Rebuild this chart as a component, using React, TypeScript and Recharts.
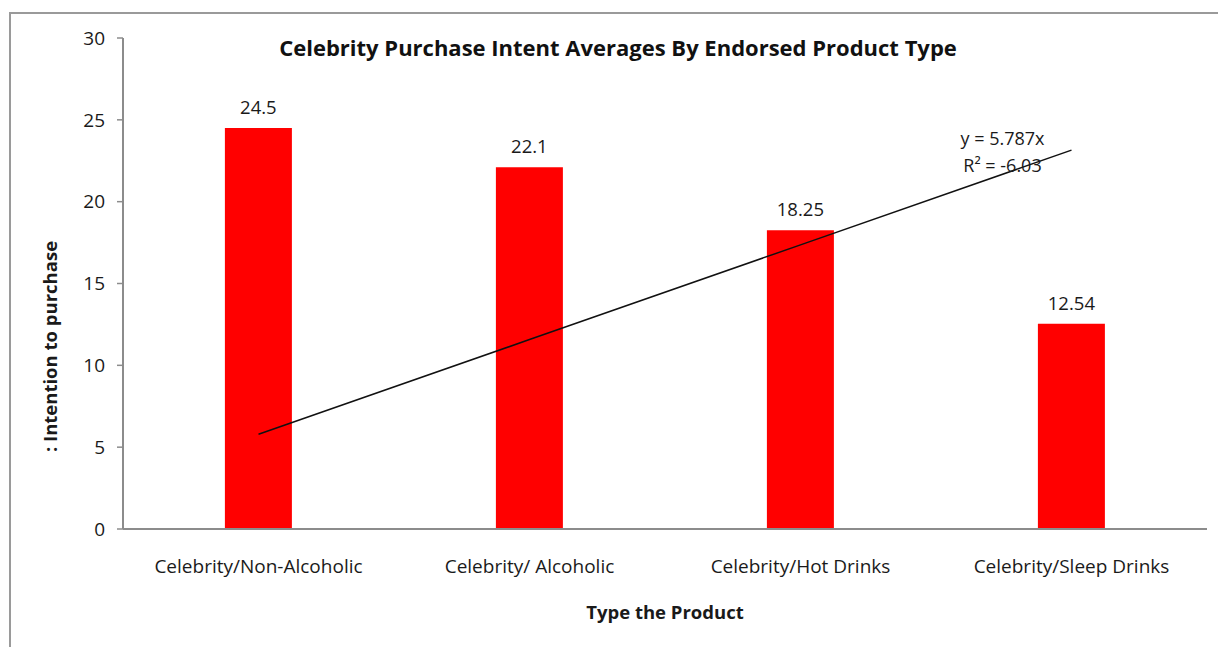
import {
  Bar,
  ComposedChart,
  LabelList,
  Line,
  XAxis,
  YAxis
} from "recharts";

const categories = [
  "Celebrity/Non-Alcoholic",
  "Celebrity/ Alcoholic",
  "Celebrity/Hot Drinks",
  "Celebrity/Sleep Drinks"
];
const intentValues = [24.5, 22.1, 18.25, 12.54];
const trendValues = [5.787, 11.574, 17.361, 23.148];
const yTicks = [0, 5, 10, 15, 20, 25, 30];

const trendEquation = "y = 5.787x";
const trendR2 = "R² = -6.03";

const data = categories.map((name, i) => ({
  name,
  intent: intentValues[i],
  trend: trendValues[i]
}));

const FONT = "'Open Sans', sans-serif";
const TEXT = "#1a1a1a";
const AXIS = "#8c8c8c";

function TrendLabel(props: any) {
  const { x, y, index } = props;
  if (index !== trendValues.length - 1) return null;
  return (
    <g fontFamily={FONT} fontSize={18} fill={TEXT}>
      <text x={x - 69} y={y - 5} textAnchor="middle">
        {trendEquation}
      </text>
      <text x={x - 69} y={y + 22} textAnchor="middle">
        {trendR2}
      </text>
    </g>
  );
}

// Excel put the axis title a bit below the plot's middle
function YTitle(props: any) {
  const { viewBox } = props;
  const cx = viewBox.x - 14;
  const cy = viewBox.y + viewBox.height / 2 + 63;
  return (
    <text
      x={cx}
      y={cy}
      transform={`rotate(-90 ${cx} ${cy})`}
      textAnchor="middle"
      dominantBaseline="central"
      fill={TEXT}
      fontSize={18.5}
      fontWeight={700}
      fontFamily={FONT}
    >
      : Intention to purchase
    </text>
  );
}

export default function App() {
  return (
    <div style={{ position: "absolute", left: 0, top: 0, width: 1218, height: 647, background: "#fff" }}>
      <div
        style={{
          position: "absolute",
          left: 9,
          top: 12,
          width: 1230,
          height: 660,
          border: "2px solid #9a9a9a",
          boxSizing: "border-box"
        }}
      />
      <div
        style={{
          position: "absolute",
          left: 0,
          top: 32,
          width: 1236,
          textAlign: "center",
          fontFamily: FONT,
          fontWeight: 700,
          fontSize: 22,
          color: "#111"
        }}
      >
        Celebrity Purchase Intent Averages By Endorsed Product Type
      </div>
      <div style={{ position: "absolute", left: 0, top: 0 }}>
        <ComposedChart
          width={1218}
          height={647}
          data={data}
          margin={{ top: 38, right: 11, left: 63, bottom: 38 }}
          barCategoryGap="37.6%"
        >
          <XAxis
            dataKey="name"
            height={80}
            tickLine={false}
            axisLine={{ stroke: AXIS, strokeWidth: 2 }}
            tick={{ fill: TEXT, fontSize: 19, fontFamily: FONT }}
            tickMargin={25}
            interval={0}
            label={{
              value: "Type the Product",
              position: "insideBottom",
              offset: -10,
              fill: TEXT,
              fontSize: 18.5,
              fontWeight: 700,
              fontFamily: FONT
            }}
          />
          <YAxis
            width={60}
            domain={[0, 30]}
            ticks={yTicks}
            interval={0}
            tickSize={6}
            tickMargin={12}
            tickLine={{ stroke: AXIS, strokeWidth: 1.5 }}
            axisLine={{ stroke: AXIS, strokeWidth: 2 }}
            tick={{ fill: TEXT, fontSize: 19, fontFamily: FONT }}
            label={<YTitle />}
          />
          <Bar dataKey="intent" fill="#ff0000" isAnimationActive={false}>
            <LabelList
              dataKey="intent"
              position="top"
              offset={14}
              fill={TEXT}
              fontSize={18.5}
              fontFamily={FONT}
            />
          </Bar>
          <Line
            type="linear"
            dataKey="trend"
            stroke="#111"
            strokeWidth={1.5}
            dot={false}
            isAnimationActive={false}
            label={<TrendLabel />}
          />
        </ComposedChart>
      </div>
    </div>
  );
}
